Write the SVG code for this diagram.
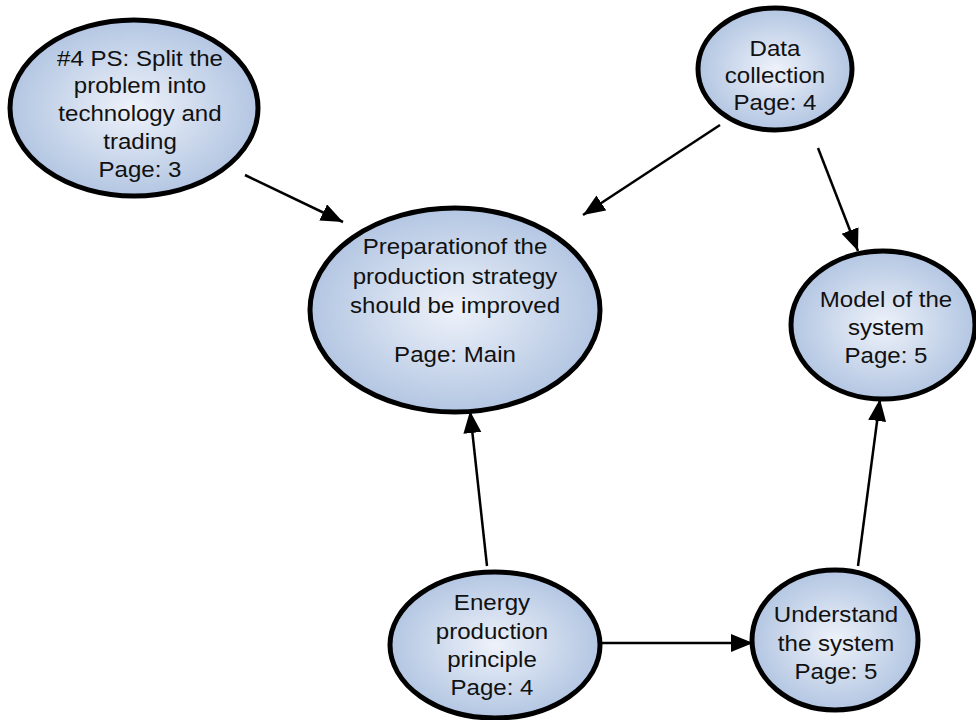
<svg xmlns="http://www.w3.org/2000/svg" width="976" height="720" viewBox="0 0 976 720">
<defs>
<radialGradient id="g" cx="50%" cy="50%" r="50%">
<stop offset="0" stop-color="#eef2fa"/>
<stop offset="1" stop-color="#b3c6e2"/>
</radialGradient>
<marker id="a" markerUnits="userSpaceOnUse" markerWidth="24" markerHeight="20" refX="22" refY="9" orient="auto">
<path d="M0,0 L22,9 L0,18 Z" fill="#000"/>
</marker>
<style>
.n ellipse{fill:url(#g);stroke:#000;stroke-width:5}
.n text{font-family:"Liberation Sans",Arial,sans-serif;font-size:22.5px;text-anchor:middle;fill:#111}
.c line{stroke:#000;stroke-width:2.5;marker-end:url(#a)}
</style>
</defs>
<rect width="976" height="720" fill="#fff"/>
<g class="c" id="connectors">
<line x1="245" y1="175" x2="343" y2="222"/>
<line x1="720" y1="125" x2="583" y2="215"/>
<line x1="818" y1="148" x2="858" y2="251"/>
<line x1="487" y1="566" x2="470" y2="411"/>
<line x1="858" y1="566" x2="880" y2="399"/>
<line x1="602" y1="643" x2="753" y2="643"/>
</g>
<g class="n" id="n1">
<ellipse cx="134" cy="108" rx="124" ry="88"/>
<g transform="translate(140 0) scale(1.07 1)">
<text x="0" y="66">#4 PS: Split the</text>
<text x="0" y="93">problem into</text>
<text x="0" y="121">technology and</text>
<text x="0" y="149">trading</text>
<text x="0" y="177">Page: 3</text>
</g>
</g>
<g class="n" id="n2">
<ellipse cx="775" cy="69" rx="77" ry="61"/>
<g transform="translate(775 0) scale(1.07 1)">
<text x="0" y="56">Data</text>
<text x="0" y="83">collection</text>
<text x="0" y="110">Page: 4</text>
</g>
</g>
<g class="n" id="n3">
<ellipse cx="455" cy="310" rx="145" ry="102"/>
<g transform="translate(455 0) scale(1.07 1)">
<text x="0" y="254">Preparationof the</text>
<text x="0" y="284">production strategy</text>
<text x="0" y="313">should be improved</text>
<text x="0" y="362">Page: Main</text>
</g>
</g>
<g class="n" id="n4">
<ellipse cx="883" cy="325" rx="92" ry="74"/>
<g transform="translate(886 0) scale(1.07 1)">
<text x="0" y="307">Model of the</text>
<text x="0" y="335">system</text>
<text x="0" y="363">Page: 5</text>
</g>
</g>
<g class="n" id="n5">
<ellipse cx="495" cy="645" rx="105" ry="73"/>
<g transform="translate(492 0) scale(1.07 1)">
<text x="0" y="610">Energy</text>
<text x="0" y="639">production</text>
<text x="0" y="667">principle</text>
<text x="0" y="695">Page: 4</text>
</g>
</g>
<g class="n" id="n6">
<ellipse cx="835" cy="640" rx="83" ry="70"/>
<g transform="translate(836 0) scale(1.07 1)">
<text x="0" y="622">Understand</text>
<text x="0" y="651">the system</text>
<text x="0" y="679">Page: 5</text>
</g>
</g>
</svg>
